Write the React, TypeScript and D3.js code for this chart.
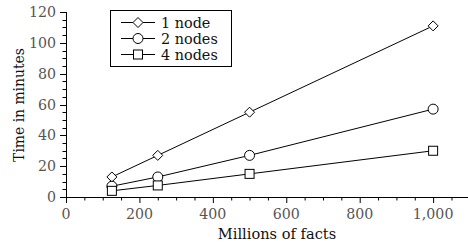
import React, { useEffect, useRef } from "react";
import * as d3 from "d3";

const facts = [125, 250, 500, 1000];
const oneNode = [13, 27, 55, 111];
const twoNodes = [7, 13, 27, 57];
const fourNodes = [4, 7.5, 15, 30];
const seriesNames = ["1 node", "2 nodes", "4 nodes"];
const symbols = ["diamond", "circle", "square"];
const xTicks = [0, 200, 400, 600, 800, 1000];
const yTicks = [0, 20, 40, 60, 80, 100, 120];

const W = 468;
const H = 244;
const font = "'DejaVu Serif', serif";

const App: React.FC = () => {
	const ref = useRef<SVGSVGElement | null>(null);

	useEffect(() => {
		if (!ref.current) return;
		const svg = d3.select(ref.current);
		svg.selectAll("*").remove();

		const margin = { left: 66, top: 12, right: 0, bottom: 47 };
		const x = d3.scaleLinear().domain([0, 1095]).range([margin.left, W - margin.right]);
		const y = d3.scaleLinear().domain([0, 120]).range([H - margin.bottom, margin.top]);

		const g = svg.append("g");

		// minor ticks
		const xMinor = d3.range(0, 1095, 50);
		g.selectAll(".xminor")
			.data(xMinor)
			.enter()
			.append("line")
			.attr("x1", (d) => x(d) + 0.5)
			.attr("x2", (d) => x(d) + 0.5)
			.attr("y1", y(0))
			.attr("y2", (d) => y(0) + (d % 200 === 0 ? 6 : 3.5))
			.attr("stroke", "#000");
		const yMinor = d3.range(0, 121, 5);
		g.selectAll(".yminor")
			.data(yMinor)
			.enter()
			.append("line")
			.attr("y1", (d) => Math.round(y(d)) + 0.5)
			.attr("y2", (d) => Math.round(y(d)) + 0.5)
			.attr("x1", x(0))
			.attr("x2", (d) => x(0) - (d % 20 === 0 ? 6 : 3.5))
			.attr("stroke", "#000");

		// axis lines
		g.append("line")
			.attr("x1", x(0) + 0.5)
			.attr("x2", x(0) + 0.5)
			.attr("y1", y(120))
			.attr("y2", y(0))
			.attr("stroke", "#000");
		g.append("line")
			.attr("x1", x(0))
			.attr("x2", W)
			.attr("y1", Math.round(y(0)) + 0.5)
			.attr("y2", Math.round(y(0)) + 0.5)
			.attr("stroke", "#000");

		// tick labels
		g.selectAll(".xl")
			.data(xTicks)
			.enter()
			.append("text")
			.attr("x", (d) => x(d))
			.attr("y", y(0) + 21.5)
			.attr("text-anchor", "middle")
			.attr("font-family", font)
			.attr("font-size", 14.2)
			.attr("fill", "#555")
			.text((d) => d3.format(",")(d));
		g.selectAll(".yl")
			.data(yTicks)
			.enter()
			.append("text")
			.attr("x", x(0) - 10)
			.attr("y", (d) => y(d) + 5)
			.attr("text-anchor", "end")
			.attr("font-family", font)
			.attr("font-size", 14.2)
			.attr("fill", "#555")
			.text((d) => d);

		// axis titles
		svg.append("text")
			.attr("x", 277)
			.attr("y", 239)
			.attr("text-anchor", "middle")
			.attr("font-family", font)
			.attr("font-size", 14.6)
			.attr("fill", "#111")
			.text("Millions of facts");
		svg.append("text")
			.attr("transform", `translate(23.5,105) rotate(-90)`)
			.attr("text-anchor", "middle")
			.attr("font-family", font)
			.attr("font-size", 13.9)
			.attr("fill", "#111")
			.text("Time in minutes");

		const drawMarker = (sel: d3.Selection<SVGGElement, unknown, null, undefined>, kind: string) => {
			if (kind === "diamond") {
				sel.append("path").attr("d", "M0,-5L5,0L0,5L-5,0Z");
			} else if (kind === "circle") {
				sel.append("circle").attr("r", 5);
			} else {
				sel.append("rect").attr("x", -4.5).attr("y", -4.5).attr("width", 9).attr("height", 9);
			}
			sel.selectAll("*").attr("fill", "#fff").attr("stroke", "#000").attr("stroke-width", 1);
		};

		const allSeries = [oneNode, twoNodes, fourNodes];
		const line = d3
			.line<number>()
			.x((_, i) => x(facts[i]))
			.y((d) => y(d));

		allSeries.forEach((vals, si) => {
			g.append("path")
				.attr("d", line(vals))
				.attr("fill", "none")
				.attr("stroke", "#000")
				.attr("stroke-width", 1);
			vals.forEach((v, i) => {
				const m = g.append("g").attr("transform", `translate(${x(facts[i])},${y(v)})`);
				drawMarker(m, symbols[si]);
			});
		});

		// legend
		const lg = svg.append("g");
		lg.append("rect")
			.attr("x", 110.5)
			.attr("y", 10.5)
			.attr("width", 121)
			.attr("height", 56)
			.attr("fill", "#fff")
			.attr("stroke", "#000");
		seriesNames.forEach((name, i) => {
			const cy = 22.5 + i * 16;
			lg.append("line")
				.attr("x1", 121)
				.attr("x2", 155)
				.attr("y1", cy)
				.attr("y2", cy)
				.attr("stroke", "#000");
			const m = lg.append("g").attr("transform", `translate(138,${cy})`);
			drawMarker(m, symbols[i]);
			lg.append("text")
				.attr("x", 161)
				.attr("y", cy + 5)
				.attr("font-family", font)
				.attr("font-size", 14.4)
				.attr("fill", "#111")
				.text(name);
		});
	}, []);

	return (
		<svg
			ref={ref}
			width={W}
			height={H}
			style={{ position: "absolute", left: 0, top: 0, background: "#fff" }}
		/>
	);
};

export default App;
